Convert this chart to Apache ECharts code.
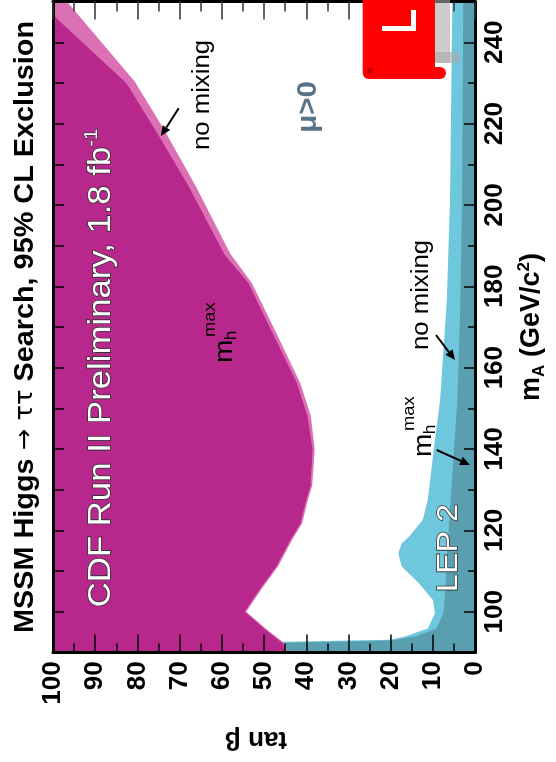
<!DOCTYPE html>
<html>
<head>
<meta charset="utf-8">
<script src="https://cdn.jsdelivr.net/npm/echarts@6/dist/echarts.min.js"></script>
<style>
  html, body { margin: 0; padding: 0; background: #fff; }
  #chart { width: 556px; height: 762px; }
</style>
</head>
<body>
<div id="chart"></div>
<script>
// ---- axes ----
const mARange = [90, 250];                       // m_A (GeV/c^2)
const mALabelTicks = [100, 120, 140, 160, 180, 200, 220, 240];
const tanBetaRange = [0, 100];
const tanBetaLabelTicks = [0, 10, 20, 30, 40, 50, 60, 70, 80, 90, 100];

// ---- exclusion contours, points are [tan beta, m_A] ----
// CDF, no mixing scenario
const cdfNoMixing = [
  [100, 250], [96.7, 250], [80.6, 230.3], [73.6, 218.4], [66.1, 204.5],
  [58.0, 188.0], [52.9, 180.8], [47.1, 168.5], [41.4, 156.2], [38.9, 148.0],
  [38.0, 139.8], [38.6, 131.0], [39.6, 127.5], [41.0, 121.7], [43.4, 117.6],
  [46.7, 111.1], [50.8, 105.3], [54.2, 100.0], [49.2, 95.5], [45.1, 92.2],
  [44.4, 90], [100, 90]
];
// CDF, m_h^max scenario
const cdfMhmax = [
  [100, 246.7], [82.6, 229.9], [74.8, 216.8], [67.8, 204.5], [59.3, 187.7],
  [53.7, 180.8], [48.0, 168.5], [42.2, 156.2], [39.7, 148.0], [38.5, 139.8],
  [39.0, 131.0], [40.0, 127.5], [41.4, 121.7], [43.8, 117.6], [47.1, 111.1],
  [51.2, 105.3], [54.6, 100.0], [49.6, 95.5], [45.5, 92.2], [44.8, 90],
  [100, 90]
];
// LEP 2, no mixing scenario
const lepNoMixing = [
  [0, 250], [5.4, 250], [5.95, 201], [6.7, 176.6], [8.3, 152], [9.8, 139.8],
  [11.2, 127.5], [12.4, 122.6], [15.5, 118.6], [17.4, 116.8], [18.2, 114.4],
  [17.4, 111.1], [13.3, 107.0], [10.0, 102.9], [9.5, 99.6], [11.2, 95.9],
  [16.6, 93.9], [20, 93.1], [45, 92.6], [60, 92.6], [60, 90], [0, 90]
];
// LEP 2, m_h^max scenario
const lepMhmax = [
  [0, 250], [2.8, 250], [3.1, 201], [3.5, 176], [4.2, 152], [5.0, 140],
  [5.8, 127.5], [6.6, 115], [7.1, 105], [7.5, 99.6], [9.2, 95.9], [14, 94.0],
  [20, 92.9], [45, 92.4], [60, 92.4], [60, 90], [0, 90]
];

const FONT = "'Liberation Sans', Arial, Helvetica, sans-serif";
const C = {
  cdfNoMix: '#dc70b4',
  cdfMhmax: '#b8278b',
  lepNoMix: '#6fc7de',
  lepMhmax: '#5a9fb0'
};

function region(name, pts, color) {
  return {
    type: 'custom', name, coordinateSystem: 'cartesian2d',
    data: pts, clip: true, silent: true, animation: false,
    renderItem(params, api) {
      if (params.dataIndex !== 0) return null;
      return {
        type: 'polygon',
        shape: { points: pts.map(p => api.coord(p)) },
        style: { fill: color }
      };
    }
  };
}

// text running bottom-to-top
function upText(cx, cy, text, o) {
  o = o || {};
  const style = {
    text, fontSize: o.size || 24, fontFamily: FONT, fontWeight: o.weight || 'normal',
    fill: o.fill || '#000', align: 'center', verticalAlign: 'middle',
    textAlign: 'center', textVerticalAlign: 'middle'
  };
  if (o.stroke) { style.stroke = o.stroke; style.lineWidth = o.lineWidth || 1.5; }
  if (o.rich) style.rich = o.rich;
  if (o.shadow) { style.shadowBlur = 8; style.shadowColor = o.shadow; }
  return { type: 'text', x: cx, y: cy, rotation: Math.PI / 2, scaleX: o.sx || 1.1, z: 100, style };
}

function localText(x, y, text, size) {
  return {
    type: 'text', x, y, z: 100,
    style: { text, fontSize: size, fontFamily: FONT, fill: '#000',
      align: 'left', verticalAlign: 'middle', textAlign: 'left', textVerticalAlign: 'middle' }
  };
}

// m_h^max label, origin at the start of the "m"
function mhmaxLabel(ox, oy) {
  return {
    type: 'group', x: ox, y: oy, rotation: Math.PI / 2, scaleX: 1.08, z: 100,
    children: [
      localText(0, -1, 'm', 26),
      localText(21, 5.5, 'h', 16),
      localText(24, -16, 'max', 17)
    ]
  };
}

function arrow(x1, y1, x2, y2) {
  const a = Math.atan2(y2 - y1, x2 - x1);
  const L = 10, W = 4.5;
  const bx = x2 - L * Math.cos(a), by = y2 - L * Math.sin(a);
  const nx = -Math.sin(a), ny = Math.cos(a);
  return [
    { type: 'line', z: 100, shape: { x1, y1, x2: bx, y2: by }, style: { stroke: '#000', lineWidth: 2 } },
    { type: 'polygon', z: 100, shape: { points: [[x2, y2], [bx + W * nx, by + W * ny], [bx - W * nx, by - W * ny]] },
      style: { fill: '#000' } }
  ];
}

const tickStyle = { color: '#000', width: 1.5 };
const frameLine = { show: true, onZero: false, lineStyle: { color: '#000', width: 3 } };
const labelFont = { fontFamily: FONT, fontWeight: 'bold', fontSize: 26, color: '#000' };

const option = {
  backgroundColor: '#fff',
  animation: false,
  grid: { left: 53, right: 74.5, top: 1.6, bottom: 109.6, containLabel: false },
  xAxis: [
    {
      type: 'value', min: tanBetaRange[0], max: tanBetaRange[1], interval: 10, inverse: true,
      position: 'bottom', z: 10, axisLine: frameLine,
      axisTick: { inside: true, length: 18, lineStyle: tickStyle },
      minorTick: { show: true, splitNumber: 2, length: 9, lineStyle: tickStyle },
      axisLabel: Object.assign({ rotate: 90, margin: 9, customValues: tanBetaLabelTicks }, labelFont),
      splitLine: { show: false },
      name: 'tan β', nameLocation: 'middle', nameRotate: 180, nameGap: 74,
      nameTextStyle: { fontFamily: FONT, fontWeight: 'bold', fontSize: 26, color: '#000', padding: [0, 0, 0, 16] }
    },
    {
      type: 'value', min: tanBetaRange[0], max: tanBetaRange[1], interval: 10, inverse: true,
      position: 'top', z: 10, axisLine: frameLine,
      axisTick: { inside: true, length: 18, lineStyle: { color: '#333', width: 1.5 } },
      minorTick: { show: true, splitNumber: 2, length: 10, lineStyle: { color: '#333', width: 1.5 } },
      axisLabel: { show: false }, splitLine: { show: false }
    }
  ],
  yAxis: [
    {
      type: 'value', min: mARange[0], max: mARange[1], interval: 10, position: 'right', z: 10,
      axisLine: frameLine,
      axisTick: { inside: true, length: 11, customValues: mALabelTicks, lineStyle: tickStyle },
      axisLabel: Object.assign({ rotate: 90, margin: 7, customValues: mALabelTicks }, labelFont),
      splitLine: { show: false },
      name: '{a|m}{s|A}{a| (GeV/c}{p|2}{a|)}', nameLocation: 'middle', nameRotate: 90, nameGap: 34,
      nameTextStyle: {
        rich: {
          a: { fontFamily: FONT, fontWeight: 'bold', fontSize: 27, color: '#000', lineHeight: 32 },
          s: { fontFamily: FONT, fontWeight: 'bold', fontSize: 17, color: '#000', lineHeight: 14, verticalAlign: 'bottom' },
          p: { fontFamily: FONT, fontWeight: 'bold', fontSize: 17, color: '#000', lineHeight: 14, verticalAlign: 'top' }
        }
      }
    },
    {
      type: 'value', min: mARange[0], max: mARange[1], interval: 10, position: 'right', z: 10,
      axisLine: { show: false },
      axisTick: { inside: true, length: 7, lineStyle: tickStyle },
      axisLabel: { show: false }, splitLine: { show: false }
    },
    {
      type: 'value', min: mARange[0], max: mARange[1], interval: 10, position: 'left', z: 10,
      axisLine: frameLine,
      axisTick: { inside: true, length: 11, lineStyle: tickStyle },
      axisLabel: { show: false }, splitLine: { show: false }
    }
  ],
  series: [
    region('LEP 2 no mixing', lepNoMixing, C.lepNoMix),
    region('LEP 2 mhmax', lepMhmax, C.lepMhmax),
    region('CDF no mixing', cdfNoMixing, C.cdfNoMix),
    region('CDF mhmax', cdfMhmax, C.cdfMhmax)
  ],
  graphic: {
    elements: [
      // title
      upText(25, 327, '{a|MSSM Higgs }{b|→ ττ}{a| Search, 95% CL Exclusion}', {
        size: 28, weight: 'bold', sx: 1.03,
        rich: {
          a: { fontFamily: FONT, fontWeight: 'bold', fontSize: 28, fill: '#000', lineHeight: 32 },
          b: { fontFamily: "'DejaVu Sans', sans-serif", fontWeight: 'normal', fontSize: 25, fill: '#000', lineHeight: 32 }
        }
      }),
      // experiment label
      upText(101, 368, '{a|CDF Run II Preliminary, 1.8 fb}{s|-1}', {
        size: 31, sx: 1.12, fill: '#fff', stroke: '#333', lineWidth: 1.5,
        rich: {
          a: { fontFamily: FONT, fontSize: 31, fill: '#fff', stroke: '#333', lineWidth: 1.5, lineHeight: 36 },
          s: { fontFamily: FONT, fontSize: 18, fill: '#fff', stroke: '#333', lineWidth: 1.2, lineHeight: 18, verticalAlign: 'top' }
        }
      }),
      upText(203, 95, 'no mixing', { size: 23, sx: 1.12 }),
      ...arrow(178.7, 108.3, 161, 136),
      mhmaxLabel(226, 363),
      upText(308, 107, 'μ>0', { size: 28, weight: 'bold', fill: '#587489', sx: 1.05, shadow: 'rgba(60,80,100,0.35)' }),
      upText(422, 295, 'no mixing', { size: 23, sx: 1.12 }),
      ...arrow(436, 335, 455, 360),
      mhmaxLabel(425, 457),
      ...arrow(436.7, 450, 470, 465),
      upText(449, 548, 'LEP 2', { size: 30, sx: 1.08, fill: '#fff', stroke: '#333', lineWidth: 1.5 }),
      // logo
      { type: 'rect', z: 110, shape: { x: 434, y: 0, width: 16, height: 63 }, style: { fill: 'rgba(170,170,170,0.6)' } },
      { type: 'rect', z: 110, shape: { x: 434, y: 52, width: 27, height: 11, r: 5 }, style: { fill: 'rgba(170,170,170,0.6)' } },
      { type: 'rect', z: 111, shape: { x: 362.7, y: -8, width: 72.3, height: 87, r: 6 }, style: { fill: '#ff0000' } },
      { type: 'rect', z: 111, shape: { x: 425, y: 67, width: 21, height: 12, r: 6 }, style: { fill: '#ff0000' } },
      { type: 'circle', z: 112, shape: { cx: 370, cy: 71, r: 3 }, style: { fill: '#c80000' } },
      { type: 'rect', z: 112, shape: { x: 411, y: 10, width: 5, height: 21 }, style: { fill: '#fff' } },
      { type: 'rect', z: 112, shape: { x: 382, y: 26, width: 34, height: 5 }, style: { fill: '#fff' } }
    ]
  }
};

const chart = echarts.init(document.getElementById('chart'), null, { renderer: 'canvas', width: 556, height: 762 });
chart.setOption(option);
</script>
</body>
</html>
